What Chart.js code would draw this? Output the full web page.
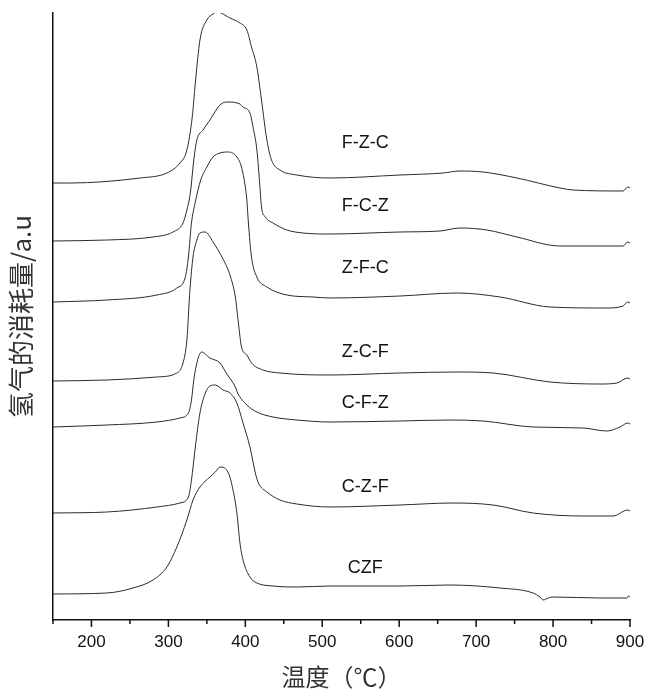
<!doctype html>
<html lang="zh">
  <head>
    <meta charset="utf-8">
    <title>H2-TPR</title>
    <style>
      body { margin: 0; background: #fff; }
    </style>
  </head>
  <body>
    <canvas id="myChart" width="649" height="691"></canvas>
    <script src="https://cdn.jsdelivr.net/npm/chart.js"></script>
    <script>
      // curve names, top to bottom
      const seriesNames = ['F-Z-C', 'F-C-Z', 'Z-F-C', 'Z-C-F', 'C-F-Z', 'C-Z-F', 'CZF'];

      // [temperature (℃), offset signal (a.u.)]
      const fzc = [[150,437],[172,437],[263,442],[298,447],[315,457],[324,470],[331,503],[335,537],[341,580],[350,600],[358,606],[363,608],[380,602],[393,597],[402,590],[408,573],[415,553],[421,520],[428,480],[434,460],[445,450],[467,445],[510,442],[601,445],[657,447],[679,449],[709,448],[753,442],[809,432],[826,430],[891,429],[897,433],[900,432]];
      const fcz = [[150,379],[220,380],[280,383],[306,388],[319,397],[324,410],[327,420],[329,430],[333,460],[337,480],[345,490],[354,500],[367,515],[376,518],[393,516],[397,513],[406,507],[410,493],[415,470],[419,433],[421,413],[426,403],[436,397],[454,390],[475,387],[510,386],[601,388],[653,389],[679,392],[714,390],[753,383],[809,374],[831,374],[891,374],[897,378],[900,377]];
      const zfc = [[150,318],[220,320],[285,325],[311,332],[322,343],[326,363],[330,397],[335,418],[342,440],[350,453],[358,463],[367,467],[378,468],[389,463],[395,453],[400,433],[402,420],[404,397],[408,363],[415,343],[428,333],[454,325],[488,323],[510,322],[601,324],[675,327],[731,323],[796,313],[870,312],[891,314],[897,318],[900,317]];
      const zcf = [[150,239],[220,240],[285,243],[311,247],[319,257],[324,280],[328,330],[332,363],[337,380],[341,387],[348,388],[358,378],[371,361],[380,345],[387,323],[391,297],[395,273],[402,265],[408,257],[423,250],[445,247],[510,245],[601,247],[675,248],[722,247],[796,238],[861,236],[883,237],[897,242],[900,241]];
      const cfz = [[150,193],[220,195],[285,198],[315,202],[326,207],[330,220],[333,240],[338,260],[343,268],[354,262],[367,257],[376,246],[387,233],[390,227],[402,215],[415,208],[436,203],[467,200],[510,198],[601,199],[666,200],[709,199],[774,193],[839,192],[870,189],[887,193],[897,197],[900,196]];
      const czf3 = [[150,107],[220,108],[285,113],[315,117],[326,123],[330,140],[335,173],[341,207],[348,227],[354,234],[361,235],[371,230],[380,227],[389,217],[397,197],[406,173],[413,147],[417,137],[428,128],[445,120],[467,116],[510,113],[601,115],[670,117],[722,115],[774,107],[839,104],[878,104],[897,110],[900,109]];
      const czf = [[150,26],[220,27],[254,32],[280,40],[298,53],[311,73],[324,100],[332,120],[341,133],[354,143],[361,148],[367,153],[378,147],[384,130],[389,107],[393,77],[397,60],[406,43],[415,37],[436,34],[467,33],[510,34],[601,34],[666,35],[731,32],[774,27],[783,23],[787,20],[794,22],[800,23],[861,22],[896,22],[898,24],[900,23]];

      const seriesData = [fzc, fcz, zfc, zcf, cfz, czf3, czf];

      // where each name sits: [temperature, signal]
      const labelT = [556, 556, 556, 556, 556, 556, 556];
      const labelV = [477, 414, 352, 268, 217, 133, 52];

      const xTicks = [150, 200, 250, 300, 350, 400, 450, 500, 550, 600, 650, 700, 750, 800, 850, 900];

      const data = {
        datasets: seriesData.map((pts, i) => ({
          label: seriesNames[i],
          data: pts.map(p => ({ x: p[0], y: p[1] })),
          borderColor: '#2b2b2b',
          borderWidth: 1,
          pointRadius: 0,
          fill: false,
          cubicInterpolationMode: 'monotone'
        }))
      };

      const extras = {
        id: 'extras',
        afterDraw(chart) {
          const { ctx, scales: { x, y } } = chart;
          ctx.save();
          // tick marks below the x axis
          ctx.strokeStyle = '#111';
          ctx.lineWidth = 1.5;
          xTicks.forEach(v => {
            const px = x.getPixelForValue(v);
            const len = v % 100 === 0 ? 7 : 4;
            ctx.beginPath();
            ctx.moveTo(px, y.bottom);
            ctx.lineTo(px, y.bottom + len);
            ctx.stroke();
          });
          // curve names
          ctx.fillStyle = '#111';
          ctx.font = '18px "Liberation Sans", Arial, sans-serif';
          ctx.textAlign = 'center';
          ctx.textBaseline = 'middle';
          seriesNames.forEach((n, i) => {
            ctx.fillText(n, x.getPixelForValue(labelT[i]), y.getPixelForValue(labelV[i]));
          });
          ctx.restore();
        }
      };

      const config = {
        type: 'line',
        data,
        options: {
          responsive: false,
          devicePixelRatio: 1,
          animation: false,
          layout: { padding: { top: 13, right: 19, left: 0, bottom: 0 } },
          plugins: {
            legend: { display: false },
            tooltip: { enabled: false }
          },
          scales: {
            x: {
              type: 'linear',
              min: 150,
              max: 900,
              afterBuildTicks: (scale) => { scale.ticks = xTicks.map(v => ({ value: v })); },
              afterFit: (scale) => {
                scale.height = 71;
                scale.paddingLeft = 0;
                scale.paddingRight = 0;
              },
              grid: { display: false, drawTicks: false },
              border: { display: true, color: '#111', width: 1.5 },
              ticks: {
                autoSkip: false,
                maxRotation: 0,
                padding: 12,
                color: '#111',
                font: { family: '"Liberation Sans", Arial, sans-serif', size: 17 },
                callback: (v) => (v % 100 === 0 ? v : '')
              },
              title: {
                display: true,
                text: '温度（℃）',
                color: '#333',
                font: { family: '"Noto Sans CJK SC", sans-serif', size: 24 },
                padding: { top: 0, bottom: 0 }
              }
            },
            y: {
              min: 0,
              max: 607,
              afterFit: (scale) => { scale.width = 53; },
              grid: { display: false, drawTicks: false },
              border: { display: true, color: '#111', width: 1.5 },
              ticks: { display: false },
              title: {
                display: true,
                text: '氢气的消耗量/a.u',
                color: '#333',
                font: { family: '"Noto Sans CJK SC", sans-serif', size: 26 },
                padding: { top: 6, bottom: 0 }
              }
            }
          }
        },
        plugins: [extras]
      };

      const myChart = new Chart(document.getElementById('myChart'), config);
    </script>
  </body>
</html>
